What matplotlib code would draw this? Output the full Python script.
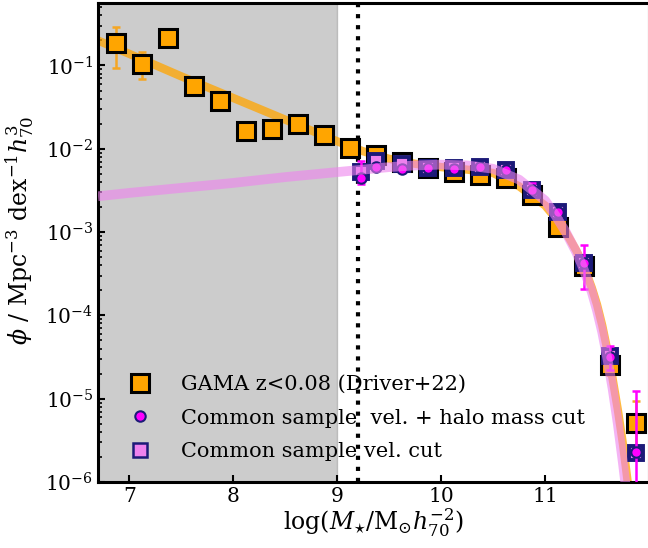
import numpy as np
import matplotlib
matplotlib.use("Agg")
import matplotlib.pyplot as plt
from matplotlib.lines import Line2D

plt.rcParams["font.family"] = ["DejaVu Serif"]
plt.rcParams["mathtext.fontset"] = "dejavuserif"

# GAMA z<0.08 (Driver+22)
gama_logm = [6.875, 7.125, 7.375, 7.625, 7.875, 8.125, 8.375, 8.625, 8.875, 9.125,
             9.375, 9.625, 9.875, 10.125, 10.375, 10.625, 10.875, 11.125, 11.375,
             11.625, 11.875]
gama_phi = [0.186, 0.104, 0.214, 0.0568, 0.0375, 0.0164, 0.0173, 0.0199, 0.0147, 0.0102,
            0.0084, 0.0070, 0.0059, 0.0053, 0.0049, 0.0045, 0.0028, 0.00116, 0.00039,
            2.55e-5, 5.1e-6]
gama_lo = [0.093, 0.069, 0.200, 0.053, 0.035, 0.0155, 0.0165, 0.019, 0.014, 0.0098,
           0.0081, 0.0068, 0.0057, 0.0051, 0.0047, 0.0043, 0.0026, 0.00105, 0.00033,
           1.9e-5, 2.5e-6]
gama_hi = [0.29, 0.145, 0.225, 0.060, 0.039, 0.017, 0.018, 0.021, 0.0155, 0.0106,
           0.0087, 0.0072, 0.0061, 0.0055, 0.0051, 0.0047, 0.0030, 0.00128, 0.00046,
           3.3e-5, 9.3e-6]

# common sample
cs_logm = [9.225, 9.375, 9.625, 9.875, 10.125, 10.375, 10.625, 10.875, 11.125, 11.375,
           11.625, 11.875]
vel_phi = [0.0052, 0.0072, 0.0066, 0.0059, 0.0058, 0.0060, 0.0056, 0.0032, 0.00174,
           0.00042, 3.3e-5, 2.2e-6]
halo_phi = [0.0044, 0.0060, 0.0057, 0.0059, 0.0057, 0.0060, 0.0056, 0.0032, 0.00173,
            0.00043, 3.2e-5, 2.3e-6]
halo_lo = [0.0038, 0.0056, 0.0054, 0.0056, 0.0054, 0.0057, 0.0053, 0.0029, 0.00158,
           0.00021, 2.2e-5, 1e-7]
halo_hi = [0.0071, 0.0064, 0.0060, 0.0062, 0.0060, 0.0063, 0.0059, 0.0039, 0.0019,
           0.0007, 4.3e-5, 1.23e-5]

# fitted curves (log phi)
fit_logm = [6.7, 7.0, 7.5, 8.0, 8.5, 9.0, 9.25, 9.5, 9.75, 10.0, 10.25, 10.5, 10.75,
            11.0, 11.1, 11.2, 11.3, 11.35, 11.4, 11.45, 11.5, 11.55, 11.6, 11.65, 11.7,
            11.75, 11.8]
fit_gama = [-0.70, -0.86, -1.13, -1.39, -1.65, -1.91, -2.03, -2.12, -2.18, -2.22, -2.25,
            -2.29, -2.45, -2.68, -2.83, -3.00, -3.22, -3.35, -3.50, -3.67, -3.87, -4.12,
            -4.42, -4.76, -5.13, -5.55, -6.05]
fit_cs = [-2.57, -2.53, -2.47, -2.41, -2.34, -2.28, -2.25, -2.22, -2.20, -2.19, -2.20,
          -2.24, -2.37, -2.62, -2.80, -3.00, -3.24, -3.38, -3.54, -3.72, -3.94, -4.20,
          -4.52, -4.88, -5.30, -5.78, -6.30]

navy = "#1c1a78"

fig = plt.figure(figsize=(6.48, 5.48), dpi=100)
ax = fig.add_axes([98 / 648, 66 / 548, 551 / 648, 479 / 548])

ax.axvspan(6.7, 9.0, color="gray", alpha=0.4, zorder=0)
ax.axvline(9.2, color="k", ls=":", lw=3, zorder=1)

ax.plot(fit_logm, 10 ** np.array(fit_gama), color="orange", alpha=0.75, lw=6,
        solid_capstyle="butt", zorder=2)

g = np.array(gama_phi)
ax.errorbar(gama_logm, g, yerr=[g - np.array(gama_lo), np.array(gama_hi) - g],
            fmt="none", ecolor="#f5a623", elinewidth=1.8, capsize=3, capthick=1.8, zorder=3)
ax.plot(gama_logm, g, ls="none", marker="s", ms=13, mfc="orange", mec="k", mew=2.2,
        zorder=4)

ax.plot(cs_logm, vel_phi, ls="none", marker="s", ms=10, mfc="violet", mec=navy,
        mew=2.8, zorder=5)
h = np.array(halo_phi)
ax.errorbar(cs_logm, h, yerr=[h - np.array(halo_lo), np.array(halo_hi) - h],
            fmt="none", ecolor="magenta", elinewidth=1.8, capsize=3, capthick=1.8, zorder=6)
ax.plot(cs_logm, h, ls="none", marker="o", ms=7.5, mfc="magenta", mec=navy, mew=1.5,
        zorder=7)

ax.plot(fit_logm, 10 ** np.array(fit_cs), color="violet", alpha=0.6, lw=7,
        solid_capstyle="butt", zorder=8)

ax.set_yscale("log")
ax.set_xlim(6.7, 12.0)
ax.set_ylim(1e-6, 10 ** -0.25)
ax.set_xticks([7, 8, 9, 10, 11])

for s in ax.spines.values():
    s.set_linewidth(2.2)
ax.tick_params(which="both", direction="in", labelsize=14.5)
ax.tick_params(which="major", length=5, width=1.5)
ax.tick_params(which="minor", length=3, width=1.2)
ax.tick_params(axis="x", which="minor", bottom=False)

ax.set_xlabel(r"log$(M_{\star}/\mathrm{M}_{\odot}h_{70}^{-2})$", fontsize=17, labelpad=1)
ax.set_ylabel(r"$\phi$ / Mpc$^{-3}$ dex$^{-1}h_{70}^{3}$", fontsize=17, labelpad=1)
ax.yaxis.set_label_coords(-0.112, 0.525)

handles = [
    Line2D([], [], ls="none", marker="s", ms=13, mfc="orange", mec="k", mew=2.2),
    Line2D([], [], ls="none", marker="o", ms=7.5, mfc="magenta", mec=navy, mew=1.5),
    Line2D([], [], ls="none", marker="s", ms=10, mfc="violet", mec=navy, mew=1.8),
]
labels = ["GAMA z<0.08 (Driver+22)", "Common sample  vel. + halo mass cut",
          "Common sample vel. cut"]
ax.legend(handles, labels, loc="lower left", frameon=False, fontsize=15,
          handletextpad=1.0, labelspacing=0.7, borderaxespad=0.6)

fig.savefig("out.png", dpi=100)
